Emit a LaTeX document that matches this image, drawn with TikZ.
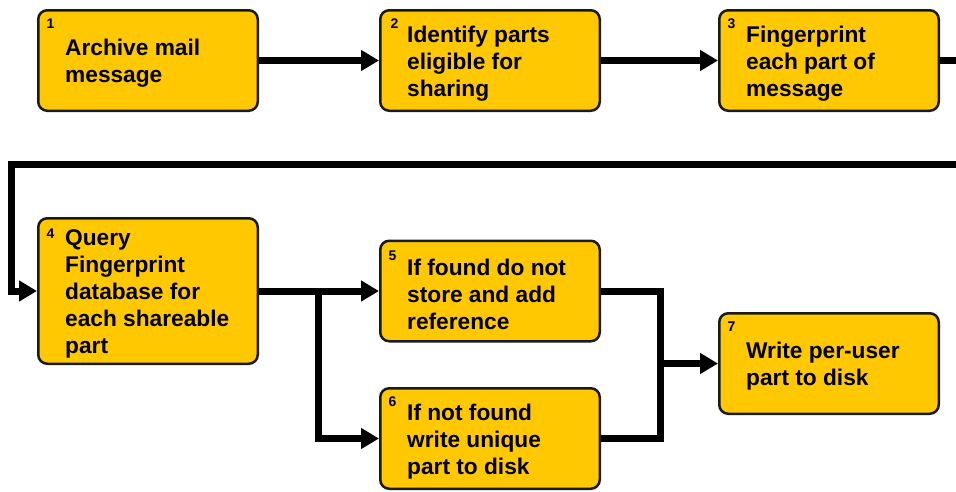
\documentclass[tikz,border=0pt]{standalone}
\usepackage{fontspec}
\setmainfont{Liberation Sans}
\usetikzlibrary{arrows.meta,positioning,calc}
\definecolor{boxgold}{HTML}{FFC800}
\definecolor{boxedge}{HTML}{1A1A1A}
\tikzset{
  stepbox/.style={draw=boxedge, line width=2.5pt, fill=boxgold, rounded corners=9pt,
    minimum width=219.5pt, minimum height=100.5pt, inner sep=0pt},
  tallbox/.style={stepbox, minimum height=145.5pt},
  steptext/.style={anchor=west, align=left, inner sep=0pt,
    font=\bfseries\fontsize{22.7}{27}\selectfont},
  stepnum/.style={anchor=center, inner sep=0pt, font=\bfseries\fontsize{14}{14}\selectfont},
  conn/.style={line width=7pt, draw=black},
  arr/.style={conn, -{Triangle[length=18pt,width=20pt]}}
}
\begin{document}
\begin{tikzpicture}[x=1pt,y=-1pt]
\useasboundingbox (0,0) rectangle (956,491);
% boxes
\node[stepbox] (b1) at (148,60.5) {};
\node[stepbox] (b2) at (490,60.5) {};
\node[stepbox] (b3) at (829,60.5) {};
\node[tallbox] (b4) at (148,291) {};
\node[stepbox] (b5) at (490,291) {};
\node[stepbox] (b6) at (490,438.5) {};
\node[stepbox] (b7) at (829,363.5) {};
% texts
\node[steptext] (t1) at ([shift={(28,3)}]b1.west) {Archive mail\\message};
\node[steptext] (t2) at ([shift={(28,3)}]b2.west) {Identify parts\\eligible for\\sharing};
\node[steptext] (t3) at ([shift={(28,3)}]b3.west) {Fingerprint\\each part of\\message};
\node[steptext] (t4) at ([shift={(28,3)}]b4.west) {Query\\Fingerprint\\database for\\each shareable\\part};
\node[steptext] (t5) at ([shift={(28,3)}]b5.west) {If found do not\\store and add\\reference};
\node[steptext] (t6) at ([shift={(28,3)}]b6.west) {If not found\\write unique\\part to disk};
\node[steptext] (t7) at ([shift={(28,3)}]b7.west) {Write per-user\\part to disk};
% numbers
\node[stepnum] (n1) at ([shift={(13.5,15)}]b1.north west) {1};
\node[stepnum] (n2) at ([shift={(15.5,15)}]b2.north west) {2};
\node[stepnum] (n3) at ([shift={(13.5,15)}]b3.north west) {3};
\node[stepnum] (n4) at ([shift={(13.5,17)}]b4.north west) {4};
\node[stepnum] (n5) at ([shift={(13.5,16)}]b5.north west) {5};
\node[stepnum] (n6) at ([shift={(13.5,15)}]b6.north west) {6};
\node[stepnum] (n7) at ([shift={(13.5,15)}]b7.north west) {7};
% junction coordinates
\coordinate (r1) at (985,60.5);
\coordinate (l1) at (11,164);
\coordinate (j1) at (318,291);
\coordinate (j2) at (660,291);
\coordinate (j3) at (660,438.5);
\coordinate (j4) at (660,363.5);
% connectors
\draw[arr] (b1.east) -- (b2.west);
\draw[arr] (b2.east) -- (b3.west);
\draw[arr] (b3.east) -- (r1) |- (l1) |- (b4.west);
\draw[arr] (b4.east) -- (b5.west);
\draw[arr] (b4.east) -- (j1) |- (b6.west);
\draw[conn] (b5.east) -- (j2) -- (j3) -- (b6.east);
\draw[arr] (j4) -- (b7.west);
\end{tikzpicture}
\end{document}
